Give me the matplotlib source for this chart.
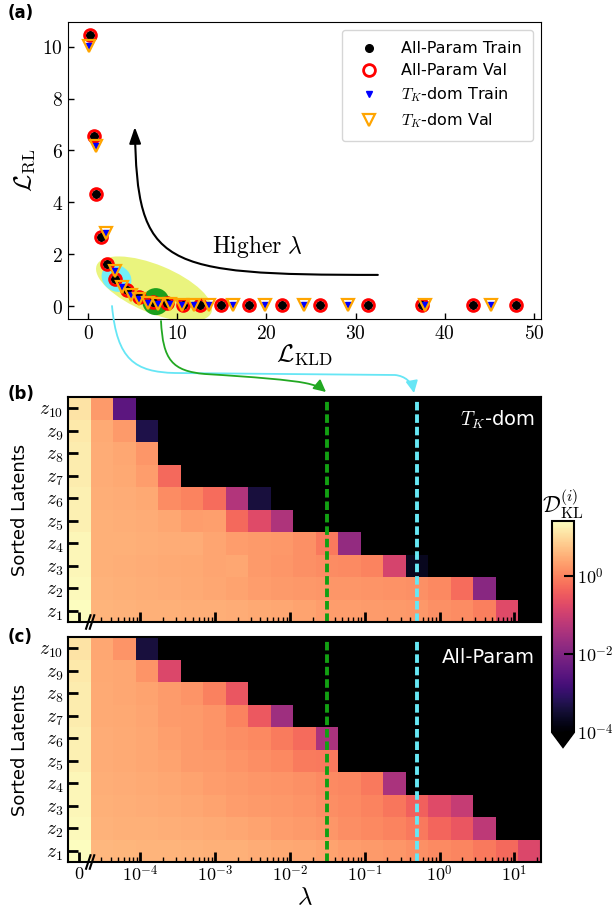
import matplotlib
matplotlib.use('Agg')
import matplotlib.pyplot as plt
import matplotlib.patches as mpatches
import matplotlib.transforms as mtransforms
from matplotlib.colors import LogNorm
from matplotlib.path import Path
import numpy as np

plt.rcParams['mathtext.fontset'] = 'cm'
plt.rcParams['font.family'] = ['DejaVu Sans']

# ---- panel (a): reconstruction loss vs KLD ----
ap_kld = [0.19, 0.63, 0.93, 1.49, 2.16, 3.04, 4.38, 5.74, 7.3, 8.9,
          10.7, 12.6, 14.9, 18.0, 21.8, 26.0, 31.4, 37.4, 43.2, 48.0]
ap_rl = [10.43, 6.57, 4.31, 2.65, 1.61, 1.03, 0.62, 0.36, 0.17, 0.10,
         0.05, 0.03, 0.03, 0.03, 0.03, 0.03, 0.03, 0.03, 0.03, 0.03]
tk_kld = [0.11, 0.87, 2.06, 3.0, 3.86, 4.76, 5.73, 6.74, 7.87, 9.18,
          10.5, 11.9, 13.6, 16.2, 19.85, 24.2, 29.1, 37.8, 45.2]
tk_rl = [10.04, 6.18, 2.8, 1.35, 0.72, 0.42, 0.26, 0.13, 0.08, 0.06,
         0.05, 0.05, 0.05, 0.05, 0.05, 0.05, 0.05, 0.05, 0.05]

# ---- panels (b), (c): per-latent KL, log10 values ----
# columns: lambda = 0, then 2^-15 ... 2^4 ; rows z1 (bottom) ... z10 (top)
lam_exp2 = list(range(-15, 5))
latent_labels = [r'$z_{%d}$' % i for i in range(1, 11)]
green_idx, cyan_idx = 10, 14   # lambda = 2^-5 and 2^-1
OFF = -6.0  # below colour range (black)

tk_log10 = [
    [1.40, .55, .52, .50, .50, .48, .48, .46, .42, .40, .35, .30, .30, .28, .25, .22, .15, .10, -.05, -.75, OFF],
    [1.35, .52, .50, .48, .45, .43, .40, .35, .30, .25, .22, .20, .20, .18, .16, .15, .05, -.25, -1.9, OFF, OFF],
    [1.30, .50, .48, .46, .44, .42, .38, .40, .25, .20, .15, .10, .08, .00, -.90, -3.7, OFF, OFF, OFF, OFF, OFF],
    [1.30, .50, .50, .48, .46, .46, .38, .30, .25, .22, .15, -.10, -1.75, OFF, OFF, OFF, OFF, OFF, OFF, OFF, OFF],
    [1.25, .50, .48, .46, .40, .30, .32, -.30, -.75, -1.4, OFF, OFF, OFF, OFF, OFF, OFF, OFF, OFF, OFF, OFF, OFF],
    [1.25, .48, .46, .42, .10, .00, -.25, -1.35, -3.4, OFF, OFF, OFF, OFF, OFF, OFF, OFF, OFF, OFF, OFF, OFF, OFF],
    [1.20, .46, .42, .30, -.30, OFF, OFF, OFF, OFF, OFF, OFF, OFF, OFF, OFF, OFF, OFF, OFF, OFF, OFF, OFF, OFF],
    [1.20, .46, .40, .20, OFF, OFF, OFF, OFF, OFF, OFF, OFF, OFF, OFF, OFF, OFF, OFF, OFF, OFF, OFF, OFF, OFF],
    [1.15, .44, .25, -3.3, OFF, OFF, OFF, OFF, OFF, OFF, OFF, OFF, OFF, OFF, OFF, OFF, OFF, OFF, OFF, OFF, OFF],
    [1.10, .25, -2.5, OFF, OFF, OFF, OFF, OFF, OFF, OFF, OFF, OFF, OFF, OFF, OFF, OFF, OFF, OFF, OFF, OFF, OFF],
]

ap_log10 = [
    [1.40, .58, .56, .54, .54, .52, .50, .50, .46, .42, .40, .35, .30, .25, .20, .15, .08, .02, -.10, -.30, -.80],
    [1.35, .52, .50, .50, .48, .46, .44, .40, .35, .30, .25, .20, .12, .05, .00, -.10, -.35, -.55, -1.2, OFF, OFF],
    [1.30, .50, .48, .46, .44, .40, .35, .30, .25, .22, .18, .12, .08, .00, -.15, -.40, -.75, -1.1, OFF, OFF, OFF],
    [1.30, .48, .46, .44, .40, .35, .30, .25, .20, .18, .14, .08, .04, -.12, -1.45, OFF, OFF, OFF, OFF, OFF, OFF],
    [1.25, .46, .44, .40, .35, .28, .25, .18, .12, .05, -.08, -.10, OFF, OFF, OFF, OFF, OFF, OFF, OFF, OFF, OFF],
    [1.25, .46, .44, .40, .32, .25, .18, .12, .05, -.08, -.28, -1.45, OFF, OFF, OFF, OFF, OFF, OFF, OFF, OFF, OFF],
    [1.20, .44, .42, .38, .28, .25, .18, .00, -.50, -1.6, OFF, OFF, OFF, OFF, OFF, OFF, OFF, OFF, OFF, OFF, OFF],
    [1.20, .44, .40, .36, .28, .18, -.02, -.55, OFF, OFF, OFF, OFF, OFF, OFF, OFF, OFF, OFF, OFF, OFF, OFF, OFF],
    [1.15, .42, .40, .18, -.80, OFF, OFF, OFF, OFF, OFF, OFF, OFF, OFF, OFF, OFF, OFF, OFF, OFF, OFF, OFF, OFF],
    [1.10, .40, .18, -3.4, OFF, OFF, OFF, OFF, OFF, OFF, OFF, OFF, OFF, OFF, OFF, OFF, OFF, OFF, OFF, OFF, OFF],
]

W, H = 614, 914
fig = plt.figure(figsize=(W / 100, H / 100), dpi=100)


def px_rect(left, top, right, bottom):
    return [left / W, 1 - bottom / H, (right - left) / W, (bottom - top) / H]


# ================= panel (a) =================
ax = fig.add_axes(px_rect(68, 22, 541, 319))
ax.set_xlim(-2.25, 50.8)
ax.set_ylim(-0.5, 10.95)

# highlight blobs (sizes in inches)
def blob(cx, cy, w, h, ang, color, z):
    tr = fig.dpi_scale_trans + mtransforms.ScaledTranslation(cx, cy, ax.transData)
    ax.add_patch(mpatches.Ellipse((0, 0), w, h, angle=ang, transform=tr,
                                  facecolor=color, edgecolor='none', zorder=z))

blob(7.4, 0.66, 1.24, 0.48, -22.5, '#eaf47e', 1)
blob(3.19, 1.07, 0.31, 0.26, -30, '#72eef8', 2)
blob(7.6, 0.17, 0.27, 0.27, 0, '#1c9f1c', 2)

ax.plot(ap_kld, ap_rl, 'o', color='black', ms=5.5, ls='none', zorder=3, label='All-Param Train')
ax.plot(ap_kld, ap_rl, 'o', mfc='none', mec='red', mew=2, ms=8.5, ls='none', zorder=3, label='All-Param Val')
ax.plot(tk_kld, tk_rl, 'v', color='blue', ms=5, ls='none', zorder=4, label=r'$T_K$-dom Train')
ax.plot(tk_kld, tk_rl, 'v', mfc='none', mec='orange', mew=1.6, ms=9, ls='none', zorder=4, label=r'$T_K$-dom Val')

# "Higher lambda" arrow
arrow_path = Path([(32.5, 1.2), (8.0, 1.2), (5.5, 1.5), (5.25, 6.9)],
                  [Path.MOVETO, Path.CURVE4, Path.CURVE4, Path.CURVE4])
ax.add_patch(mpatches.FancyArrowPatch(path=arrow_path, arrowstyle='-|>,head_length=0.7,head_width=0.25',
                                      mutation_scale=14, color='black', lw=1.5, zorder=5))
ax.text(13.9, 2.28, r'$\mathrm{Higher}\ \lambda$', fontsize=17, va='center', ha='left')

ax.set_xticks([0, 10, 20, 30, 40, 50])
ax.set_xticklabels([r'$%d$' % v for v in [0, 10, 20, 30, 40, 50]])
ax.set_yticks([0, 2, 4, 6, 8, 10])
ax.set_yticklabels([r'$%d$' % v for v in [0, 2, 4, 6, 8, 10]])
ax.tick_params(direction='in', length=4, width=1, labelsize=14)
ax.set_xlabel(r'$\mathcal{L}_{\rm KLD}$', fontsize=18, labelpad=0)
ax.set_ylabel(r'$\mathcal{L}_{\rm RL}$', fontsize=18, labelpad=4)
ax.legend(loc='upper right', fontsize=11.5, borderaxespad=0.5, borderpad=0.7,
          handletextpad=1.0, labelspacing=0.45)

# ================= panels (b), (c) =================
step = np.log10(2)
lam_centers = np.array(lam_exp2) * step
zero_center = lam_centers[0] - step
x_edges = np.concatenate([[zero_center - step / 2], lam_centers - step / 2, [lam_centers[-1] + step / 2]])
y_edges = np.arange(11) + 0.5
norm = LogNorm(vmin=1e-4, vmax=25)
cmap = plt.get_cmap('magma').copy()
cmap.set_under('black')

major = list(range(-4, 2))
minor = [np.log10(m * 10.0 ** d) for d in range(-5, 2) for m in range(2, 10)]
minor = [m for m in minor if x_edges[1] < m < x_edges[-1]]

panels = [(px_rect(68, 397, 541, 622), tk_log10, r'$T_K$-dom', False),
          (px_rect(68, 637, 541, 862), ap_log10, 'All-Param', True)]
for rect, vals, title, bottom_labels in panels:
    hx = fig.add_axes(rect)
    mesh = hx.pcolormesh(x_edges, y_edges, 10.0 ** np.array(vals), cmap=cmap, norm=norm)
    hx.set_xlim(x_edges[0], x_edges[-1])
    hx.set_ylim(y_edges[0], y_edges[-1])
    for xl, col in [(lam_centers[green_idx], '#12a012'), (lam_centers[cyan_idx], '#66e8f4')]:
        hx.axvline(xl, color=col, lw=2.8, dashes=(2.2, 1.0))
    hx.set_xticks([zero_center] + major)
    hx.set_xticks(minor, minor=True)
    hx.set_yticks(range(1, 11))
    hx.set_yticklabels(latent_labels)
    hx.tick_params(axis='both', which='major', direction='in', length=7, width=2, color='black', labelsize=14)
    hx.tick_params(axis='x', which='major', labelsize=13, pad=2)
    hx.tick_params(axis='x', which='minor', direction='in', length=3.5, width=1, color='black')
    if bottom_labels:
        hx.set_xticklabels([r'$0$'] + [r'$10^{%d}$' % d for d in major])
        hx.set_xlabel(r'$\lambda$', fontsize=18, labelpad=0)
    else:
        hx.set_xticklabels([])
    hx.set_ylabel('Sorted Latents', fontsize=13, labelpad=7)
    for s in hx.spines.values():
        s.set_linewidth(1.5)
    hx.text(0.987, 0.95, title, color='white', fontsize=14, ha='right', va='top', transform=hx.transAxes)
    # axis break marks
    bt = mtransforms.blended_transform_factory(hx.transData, hx.transAxes)
    xb = x_edges[1]
    for off in (-0.03, 0.02):
        hx.plot([xb + off - 0.03, xb + off + 0.03], [-0.03, 0.03], color='black', lw=1.5,
                transform=bt, clip_on=False, zorder=6)

# colorbar
cax = fig.add_axes(px_rect(552, 521, 574, 747))
cb = fig.colorbar(mesh, cax=cax, extend='min', extendfrac=0.07)
cb.set_ticks([1e-4, 1e-2, 1])
cb.set_ticklabels([r'$10^{-4}$', r'$10^{-2}$', r'$10^{0}$'])
cb.ax.minorticks_off()
cb.ax.tick_params(direction='in', length=7, width=1.5, labelsize=13, pad=2)
cb.outline.set_linewidth(1.5)
cax.set_title(r'$\mathcal{D}_{\rm KL}^{(i)}$', fontsize=16, pad=4)

# panel letters
for txt, top in [('(a)', 4), ('(b)', 385), ('(c)', 628)]:
    fig.text(8 / W, 1 - top / H, txt, fontsize=12, fontweight='bold', va='top', ha='left')

# connecting arrows (figure pixel coordinates)
ov = fig.add_axes([0, 0, 1, 1], zorder=20)
ov.set_xlim(0, W)
ov.set_ylim(H, 0)
ov.axis('off')
cyan_path = Path([(112, 306), (117, 360), (135, 372), (175, 373),
                  (395, 375),
                  (405, 376), (412, 382), (414, 393)],
                 [Path.MOVETO, Path.CURVE4, Path.CURVE4, Path.CURVE4,
                  Path.LINETO,
                  Path.CURVE4, Path.CURVE4, Path.CURVE4])
green_path = Path([(161, 321), (163, 360), (172, 371), (205, 374),
                   (255, 377), (290, 380), (305, 383),
                   (315, 385), (320, 387), (326, 392)],
                  [Path.MOVETO, Path.CURVE4, Path.CURVE4, Path.CURVE4,
                   Path.CURVE4, Path.CURVE4, Path.CURVE4,
                   Path.CURVE4, Path.CURVE4, Path.CURVE4])
for p, col in [(cyan_path, '#66e6f5'), (green_path, '#22a822')]:
    ov.add_patch(mpatches.FancyArrowPatch(path=p, arrowstyle='-|>,head_length=0.6,head_width=0.3',
                                          mutation_scale=12, color=col, lw=1.3, clip_on=False))

fig.savefig('out.png', dpi=100)
